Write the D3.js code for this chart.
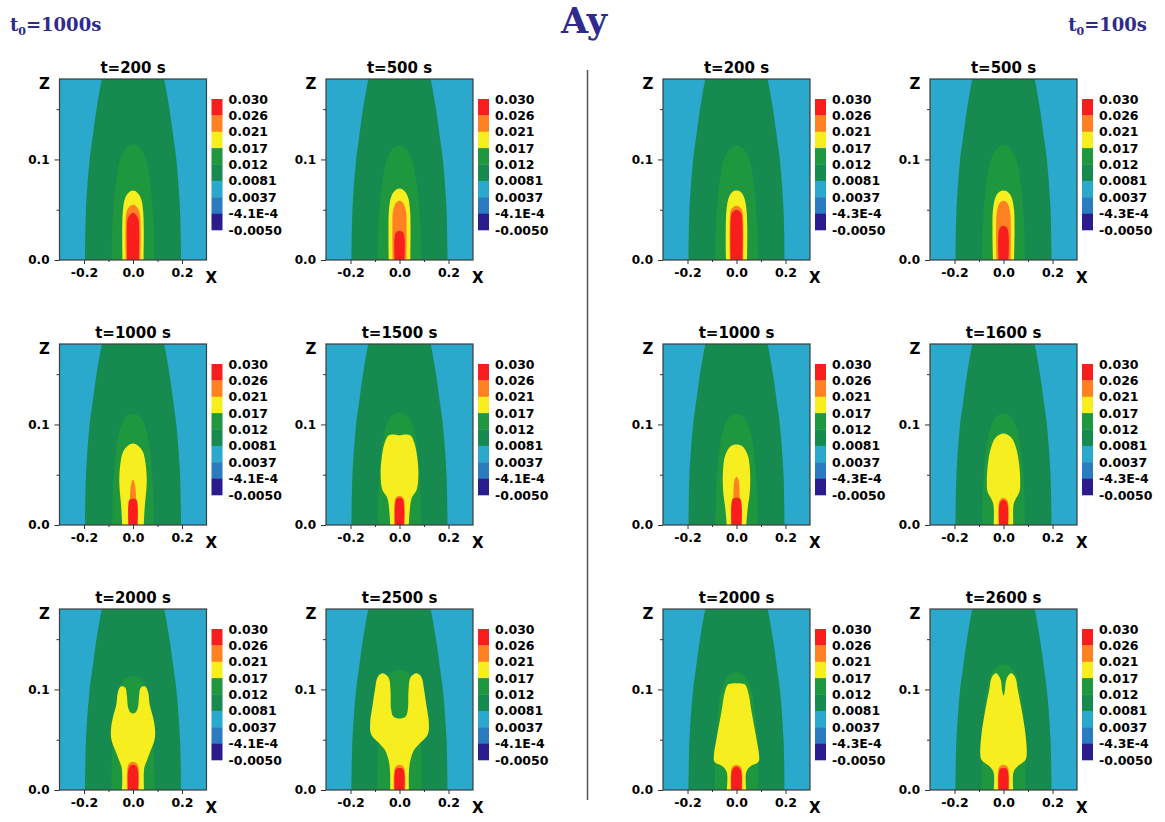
<!DOCTYPE html>
<html>
<head>
<meta charset="utf-8">
<script src="https://cdn.jsdelivr.net/npm/d3@7"></script>
<style>
  html, body { margin: 0; padding: 0; background: #fff; }
  svg { display: block; }
</style>
</head>
<body>
<svg id="chart" width="1165" height="822"></svg>
<script>
// ---- contour levels of Ay, top to bottom of each colour bar ----
const levelLabelsSlow = ["0.030", "0.026", "0.021", "0.017", "0.012", "0.0081", "0.0037", "-4.1E-4", "-0.0050"];
const levelLabelsFast = ["0.030", "0.026", "0.021", "0.017", "0.012", "0.0081", "0.0037", "-4.3E-4", "-0.0050"];
// fill of each band between consecutive levels (0 = highest band)
const bandColors = ["#f81e1e", "#ff8222", "#f6ee1e", "#1f973e", "#178a50", "#2aa9cc", "#2a7bbf", "#2b1c8e"];

// ---- snapshot times ----
const timesSlow = ["t=200 s", "t=500 s", "t=1000 s", "t=1500 s", "t=2000 s", "t=2500 s"];
const timesFast = ["t=200 s", "t=500 s", "t=1000 s", "t=1600 s", "t=2000 s", "t=2600 s"];

// ---- axis ticks ----
const zMajor = [0, 0.1];
const zMajorLabels = ["0.0", "0.1"];
const zMinor = [0.05, 0.15];
const xMajor = [-0.2, 0, 0.2];
const xMajorLabels = ["-0.2", "0.0", "0.2"];
const xMinor = [-0.1, 0.1];

// ---- contour outlines: right half [x, z], mirrored about x = 0 ----
// Ay = 0.0081 contour (same in every snapshot; closes above the plotted range)
const outerBand = [[0.196, 0], [0.192, 0.05], [0.177, 0.1], [0.166, 0.12], [0.149, 0.15], [0.127, 0.18], [0.105, 0.2], [0.07, 0.225], [0, 0.245]];

// Ay = 0.012 contour
const domeSlow = [
  [[0.087, 0], [0.085, 0.03], [0.079, 0.055], [0.068, 0.08], [0.052, 0.1], [0.03, 0.111], [0, 0.115]],
  [[0.088, 0], [0.086, 0.03], [0.08, 0.055], [0.068, 0.08], [0.052, 0.099], [0.03, 0.11], [0, 0.114]],
  [[0.085, 0], [0.083, 0.03], [0.077, 0.055], [0.066, 0.08], [0.05, 0.098], [0.028, 0.108], [0, 0.111]],
  [[0.088, 0], [0.086, 0.03], [0.08, 0.055], [0.07, 0.08], [0.055, 0.098], [0.032, 0.109], [0, 0.112]],
  [[0.088, 0], [0.086, 0.03], [0.081, 0.055], [0.072, 0.08], [0.057, 0.1], [0.034, 0.11], [0, 0.113]],
  [[0.09, 0], [0.089, 0.03], [0.085, 0.055], [0.077, 0.08], [0.064, 0.1], [0.04, 0.115], [0, 0.12]]
];
const domeFast = [
  [[0.087, 0], [0.085, 0.03], [0.079, 0.055], [0.068, 0.08], [0.052, 0.1], [0.03, 0.11], [0, 0.114]],
  [[0.087, 0], [0.085, 0.03], [0.079, 0.055], [0.068, 0.08], [0.052, 0.1], [0.03, 0.11], [0, 0.114]],
  [[0.086, 0], [0.084, 0.03], [0.078, 0.055], [0.067, 0.08], [0.05, 0.098], [0.028, 0.108], [0, 0.111]],
  [[0.087, 0], [0.085, 0.03], [0.079, 0.055], [0.068, 0.08], [0.051, 0.098], [0.029, 0.108], [0, 0.111]],
  [[0.088, 0], [0.087, 0.03], [0.083, 0.055], [0.074, 0.08], [0.06, 0.1], [0.037, 0.112], [0, 0.117]],
  [[0.09, 0], [0.089, 0.03], [0.086, 0.055], [0.079, 0.08], [0.067, 0.1], [0.045, 0.118], [0, 0.125]]
];

// Ay = 0.017 contour
const yellowSlow = [
  [[0.043, 0], [0.044, 0.03], [0.041, 0.05], [0.033, 0.061], [0.018, 0.067], [0, 0.069]],
  [[0.044, 0], [0.045, 0.03], [0.043, 0.05], [0.034, 0.063], [0.018, 0.069], [0, 0.071]],
  [[0.044, 0], [0.048, 0.018], [0.056, 0.042], [0.052, 0.06], [0.04, 0.073], [0.02, 0.079], [0, 0.081]],
  [[0.038, 0], [0.042, 0.015], [0.05, 0.027], [0.07, 0.035], [0.077, 0.05], [0.072, 0.068], [0.06, 0.082], [0.045, 0.089], [0.02, 0.09], [0, 0.089]],
  [[0.045, 0], [0.046, 0.022], [0.058, 0.03], [0.07, 0.038], [0.088, 0.05], [0.09, 0.06], [0.082, 0.072], [0.068, 0.085], [0.062, 0.097], [0.05, 0.103], [0.032, 0.102], [0.025, 0.094], [0.02, 0.082], [0.01, 0.077], [0, 0.076]],
  [[0.038, 0], [0.039, 0.02], [0.045, 0.03], [0.06, 0.04], [0.085, 0.047], [0.115, 0.055], [0.12, 0.066], [0.11, 0.084], [0.1, 0.1], [0.09, 0.112], [0.07, 0.116], [0.045, 0.112], [0.037, 0.1], [0.034, 0.08], [0.025, 0.073], [0, 0.071]]
];
const yellowFast = [
  [[0.043, 0], [0.044, 0.03], [0.04, 0.052], [0.03, 0.063], [0.015, 0.068], [0, 0.069]],
  [[0.043, 0], [0.045, 0.03], [0.043, 0.05], [0.032, 0.063], [0.015, 0.068], [0, 0.069]],
  [[0.04, 0], [0.045, 0.015], [0.055, 0.035], [0.054, 0.058], [0.045, 0.07], [0.025, 0.078], [0, 0.08]],
  [[0.04, 0], [0.041, 0.02], [0.05, 0.026], [0.065, 0.033], [0.068, 0.045], [0.063, 0.062], [0.052, 0.076], [0.035, 0.086], [0.015, 0.09], [0, 0.091]],
  [[0.04, 0], [0.04, 0.018], [0.06, 0.024], [0.09, 0.028], [0.092, 0.035], [0.08, 0.053], [0.062, 0.077], [0.048, 0.097], [0.035, 0.105], [0.015, 0.106], [0, 0.106]],
  [[0.04, 0], [0.041, 0.018], [0.06, 0.024], [0.09, 0.03], [0.095, 0.037], [0.089, 0.057], [0.076, 0.077], [0.058, 0.1], [0.048, 0.112], [0.03, 0.116], [0.012, 0.11], [0.005, 0.098], [0, 0.094]]
];

// Ay = 0.021 contour
const orangeSlow = [
  [[0.03, 0], [0.031, 0.03], [0.027, 0.047], [0.015, 0.053], [0, 0.055]],
  [[0.028, 0], [0.029, 0.03], [0.026, 0.049], [0.014, 0.057], [0, 0.059]],
  [[0.012, 0], [0.012, 0.03], [0.008, 0.04], [0, 0.045]],
  [[0.021, 0], [0.021, 0.02], [0.015, 0.027], [0, 0.029]],
  [[0.024, 0], [0.024, 0.018], [0.017, 0.026], [0, 0.028]],
  [[0.023, 0], [0.023, 0.016], [0.016, 0.023], [0, 0.025]]
];
const orangeFast = [
  [[0.027, 0], [0.027, 0.04], [0.022, 0.05], [0, 0.054]],
  [[0.029, 0], [0.03, 0.03], [0.027, 0.048], [0.015, 0.057], [0, 0.059]],
  [[0.012, 0], [0.012, 0.035], [0.008, 0.045], [0, 0.048]],
  [[0.02, 0], [0.02, 0.02], [0.014, 0.025], [0, 0.027]],
  [[0.023, 0], [0.023, 0.017], [0.017, 0.023], [0, 0.025]],
  [[0.022, 0], [0.022, 0.017], [0.016, 0.023], [0, 0.025]]
];

// Ay = 0.026 contour
const redSlow = [
  [[0.024, 0], [0.025, 0.03], [0.02, 0.042], [0, 0.047]],
  [[0.02, 0], [0.021, 0.02], [0.015, 0.027], [0, 0.029]],
  [[0.019, 0], [0.019, 0.02], [0.014, 0.025], [0, 0.026]],
  [[0.018, 0], [0.018, 0.02], [0.012, 0.026], [0, 0.027]],
  [[0.02, 0], [0.021, 0.016], [0.015, 0.023], [0, 0.025]],
  [[0.02, 0], [0.02, 0.015], [0.014, 0.021], [0, 0.022]]
];
const redFast = [
  [[0.024, 0], [0.024, 0.038], [0.018, 0.047], [0, 0.05]],
  [[0.02, 0], [0.021, 0.025], [0.014, 0.032], [0, 0.034]],
  [[0.021, 0], [0.021, 0.02], [0.015, 0.026], [0, 0.027]],
  [[0.018, 0], [0.018, 0.018], [0.012, 0.023], [0, 0.025]],
  [[0.021, 0], [0.021, 0.016], [0.015, 0.021], [0, 0.023]],
  [[0.02, 0], [0.02, 0.015], [0.014, 0.021], [0, 0.022]]
];

// ---- layout ----
const svg = d3.select("#chart");
const W = 147, H = 181;
const colX = [59.5, 326, 663, 930];
const rowY = [79, 344, 609];
const CB_W = 11, CB_H = 131, CB_GAP = 5, CB_TOP = 20;
const SANS = "DejaVu Sans, Verdana, sans-serif";
const SERIF = "DejaVu Serif, Georgia, serif";
const NAVY = "#2e2a8e";

const x = d3.scaleLinear().domain([-0.3, 0.3]).range([0, W]);
const z = d3.scaleLinear().domain([0, 0.18]).range([H, 0]);
const bandY = d3.scaleBand().domain(d3.range(bandColors.length)).range([0, CB_H]);
const levelY = d3.scaleLinear().domain([0, bandColors.length]).range([0, CB_H]);

const outline = d3.line()
  .x(d => x(d[0]))
  .y(d => z(d[1]))
  .curve(d3.curveCatmullRom.alpha(0.5));

// right half + mirrored left half -> closed region path
function closedShape(half) {
  const left = half.filter(p => p[0] !== 0).reverse().map(p => [-p[0], p[1]]);
  return outline(half.concat(left)) + "Z";
}

function styleAxis(sel, size) {
  sel.select(".domain").remove();
  sel.selectAll("line").attr("stroke", "#333").attr("stroke-width", 1);
  sel.selectAll("text")
    .attr("fill", "#000")
    .attr("font-family", SANS)
    .attr("font-weight", "bold")
    .attr("font-size", size);
}

function drawPanel(px, py, title, labels, layers, id) {
  const g = svg.append("g").attr("transform", `translate(${px},${py})`);
  const clipId = "plotclip" + id;
  g.append("clipPath").attr("id", clipId)
    .append("rect").attr("width", W).attr("height", H);

  const plot = g.append("g").attr("clip-path", `url(#${clipId})`);
  plot.append("rect").attr("width", W).attr("height", H).attr("fill", bandColors[5]);
  layers.forEach(layer => {
    plot.append("path")
      .attr("d", closedShape(layer.half))
      .attr("fill", bandColors[layer.band]);
  });

  g.append("rect")
    .attr("width", W).attr("height", H)
    .attr("fill", "none").attr("stroke", "#3c3c3c").attr("stroke-width", 1.2);

  // z axis
  g.append("g")
    .call(d3.axisLeft(z).tickValues(zMajor).tickFormat((d, i) => zMajorLabels[i]).tickSize(5).tickPadding(5))
    .call(styleAxis, 12);
  g.append("g")
    .call(d3.axisLeft(z).tickValues(zMinor).tickFormat("").tickSize(3))
    .call(styleAxis, 12);

  // x axis
  g.append("g").attr("transform", `translate(0,${H})`)
    .call(d3.axisBottom(x).tickValues(xMajor).tickFormat((d, i) => xMajorLabels[i]).tickSize(4).tickPadding(4))
    .call(styleAxis, 12.5);
  g.append("g").attr("transform", `translate(0,${H})`)
    .call(d3.axisBottom(x).tickValues(xMinor).tickFormat("").tickSize(2))
    .call(styleAxis, 12.5);

  // axis letters and title
  g.append("text").text("Z")
    .attr("x", -15).attr("y", 10).attr("text-anchor", "middle")
    .attr("font-family", SANS).attr("font-weight", "bold").attr("font-size", 15);
  g.append("text").text("X")
    .attr("x", W - 1).attr("y", H + 23)
    .attr("font-family", SANS).attr("font-weight", "bold").attr("font-size", 15);
  g.append("text").text(title)
    .attr("x", W / 2).attr("y", -6).attr("text-anchor", "middle")
    .attr("font-family", SANS).attr("font-weight", "bold").attr("font-size", 15);

  // colour bar
  const cb = g.append("g").attr("transform", `translate(${W + CB_GAP},${CB_TOP})`);
  cb.selectAll("rect").data(bandColors).join("rect")
    .attr("x", 0)
    .attr("y", (d, i) => bandY(i))
    .attr("width", CB_W)
    .attr("height", bandY.bandwidth() + 0.3)
    .attr("fill", d => d);
  cb.selectAll("text").data(labels).join("text")
    .attr("x", CB_W + 6)
    .attr("y", (d, i) => levelY(i))
    .attr("dy", "0.36em")
    .attr("font-family", SANS).attr("font-weight", "bold").attr("font-size", 12.5)
    .text(d => d);
}

function buildGroup(times, labels, domes, yellows, oranges, reds, firstCol, tag) {
  times.forEach((t, i) => {
    const row = Math.floor(i / 2), col = firstCol + (i % 2);
    const layers = [
      { band: 4, half: outerBand },
      { band: 3, half: domes[i] },
      { band: 2, half: yellows[i] },
      { band: 1, half: oranges[i] },
      { band: 0, half: reds[i] }
    ];
    drawPanel(colX[col], rowY[row], t, labels, layers, tag + i);
  });
}

buildGroup(timesSlow, levelLabelsSlow, domeSlow, yellowSlow, orangeSlow, redSlow, 0, "a");
buildGroup(timesFast, levelLabelsFast, domeFast, yellowFast, orangeFast, redFast, 2, "b");

// divider between the two groups
svg.append("line")
  .attr("x1", 587.5).attr("x2", 587.5).attr("y1", 70).attr("y2", 800)
  .attr("stroke", "#555").attr("stroke-width", 1.5);

// headings
function heading(xPos, anchor, value) {
  const t = svg.append("text")
    .attr("x", xPos).attr("y", 31).attr("text-anchor", anchor)
    .attr("font-family", SERIF).attr("font-weight", "bold").attr("font-size", 18)
    .attr("fill", NAVY);
  t.append("tspan").text("t");
  t.append("tspan").text("0").attr("font-size", 11).attr("dy", 4);
  t.append("tspan").text("=" + value).attr("dy", -4);
}
heading(10, "start", "1000s");
heading(1147, "end", "100s");

svg.append("text").text("Ay")
  .attr("x", 584).attr("y", 33).attr("text-anchor", "middle")
  .attr("font-family", SERIF).attr("font-weight", "bold").attr("font-size", 35)
  .attr("fill", NAVY);
</script>
</body>
</html>
